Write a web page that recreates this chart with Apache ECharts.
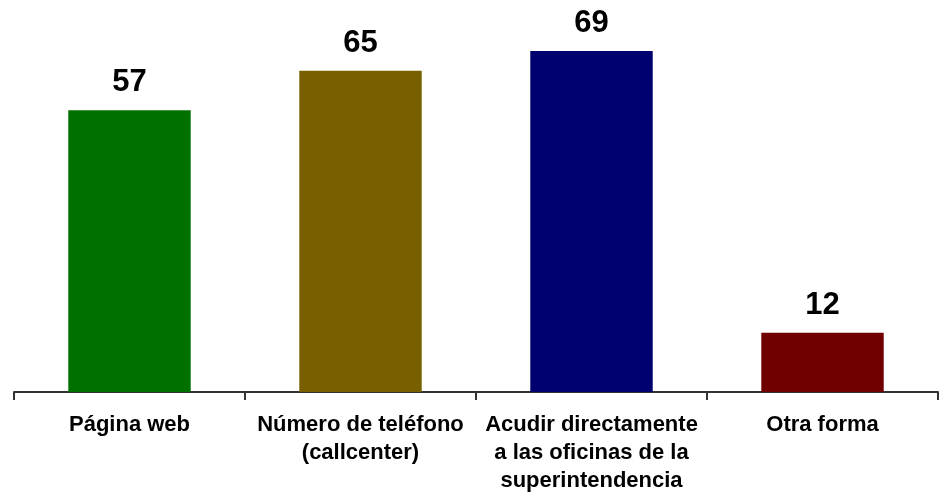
<!DOCTYPE html>
<html>
<head>
<meta charset="utf-8">
<script src="https://cdn.jsdelivr.net/npm/echarts@6/dist/echarts.min.js"></script>
<style>
  html, body { margin: 0; padding: 0; background: #ffffff; }
  #chart { width: 942px; height: 498px; }
</style>
</head>
<body>
<div id="chart"></div>
<script>
// Channels used to reach the office, with the count for each one
const categories = [
  'Página web',
  'Número de teléfono\n(callcenter)',
  'Acudir directamente\na las oficinas de la\nsuperintendencia',
  'Otra forma'
];
const values = [57, 65, 69, 12];
const barColors = ['#007000', '#786000', '#000070', '#700000'];

const chart = echarts.init(document.getElementById('chart'), null, { renderer: 'canvas' });

chart.setOption({
  backgroundColor: '#ffffff',
  animation: false,
  grid: { left: 14, right: 4, top: 46, bottom: 106, containLabel: false },
  xAxis: {
    type: 'category',
    data: categories,
    axisLine: { show: true, lineStyle: { color: '#333333', width: 2 } },
    axisTick: { show: true, alignWithLabel: false, length: 8, lineStyle: { color: '#333333', width: 2 } },
    axisLabel: {
      interval: 0,
      margin: 19,
      color: '#000000',
      fontFamily: 'Liberation Sans, Arial, sans-serif',
      fontWeight: 'bold',
      fontSize: 22,
      lineHeight: 28,
      align: 'center'
    }
  },
  yAxis: {
    type: 'value',
    min: 0,
    max: 70,
    show: false,
    splitLine: { show: false }
  },
  series: [{
    type: 'bar',
    barWidth: '53%',
    data: values.map((v, i) => ({ value: v, itemStyle: { color: barColors[i] } })),
    label: {
      show: true,
      position: 'top',
      distance: 12,
      color: '#000000',
      fontFamily: 'Liberation Sans, Arial, sans-serif',
      fontWeight: 'bold',
      fontSize: 31,
      lineHeight: 31
    }
  }]
});
</script>
</body>
</html>
